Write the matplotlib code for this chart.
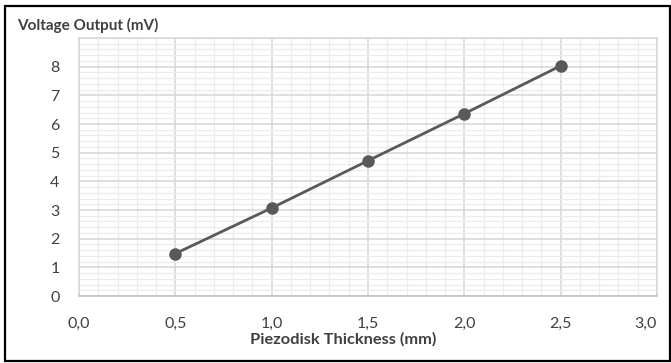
import matplotlib
matplotlib.use("Agg")
import matplotlib.pyplot as plt
from matplotlib.patches import Rectangle
from matplotlib.ticker import MultipleLocator

thickness = [0.5, 1.0, 1.5, 2.0, 2.5]
voltage = [1.48, 3.07, 4.72, 6.36, 8.03]
x_ticks = [0.0, 0.5, 1.0, 1.5, 2.0, 2.5, 3.0]
x_tick_labels = ["0,0", "0,5", "1,0", "1,5", "2,0", "2,5", "3,0"]
y_ticks = [0, 1, 2, 3, 4, 5, 6, 7, 8]
y_tick_labels = [str(v) for v in y_ticks]

plt.rcParams['font.family'] = ['Lato', 'DejaVu Sans']

W, H = 671, 363
fig = plt.figure(figsize=(W / 100, H / 100), dpi=100)
ax = fig.add_axes([79 / W, 1 - 296 / H, (657 - 79) / W, (296 - 38) / H])

ax.set_xlim(0, 3.0)
ax.set_ylim(0, 9)
ax.set_xticks(x_ticks)
ax.set_xticklabels(x_tick_labels)
ax.set_yticks(y_ticks)
ax.set_yticklabels(y_tick_labels)
ax.get_xticklabels()[-1].set_ha('right')
ax.xaxis.set_minor_locator(MultipleLocator(0.1))
ax.yaxis.set_minor_locator(MultipleLocator(0.2))
ax.grid(which='minor', color='#ececec', linewidth=0.9)
ax.grid(which='major', color='#d6d6d6', linewidth=1.1)
ax.set_axisbelow(True)
ax.tick_params(which='both', length=0)
ax.tick_params(axis='y', pad=14, labelsize=11.5, labelcolor='#404040')
ax.tick_params(axis='x', pad=15, labelsize=11.5, labelcolor='#404040')
for s in ax.spines.values():
    s.set_color('#d6d6d6')
    s.set_linewidth(1.1)
ax.spines['bottom'].set_color('#bfbfbf')

ax.plot(thickness, voltage, color='#595959', linewidth=2.0, marker='o',
        markersize=8, markerfacecolor='#595959', markeredgecolor='#595959',
        zorder=3, clip_on=False)

fig.text(17 / W, 1 - 25 / H, "Voltage Output (mV)", fontsize=11,
         fontweight='bold', color='#404040', ha='left', va='center')
fig.text(343 / W, 1 - 339 / H, "Piezodisk Thickness (mm)", fontsize=11.8,
         fontweight='bold', color='#404040', ha='center', va='center')

fig.patches.append(Rectangle((5 / W, 1 - 361 / H), (670 - 5) / W, (361 - 6) / H,
                             transform=fig.transFigure, fill=False,
                             edgecolor='black', linewidth=1.6))

fig.savefig("out.png", dpi=100)
